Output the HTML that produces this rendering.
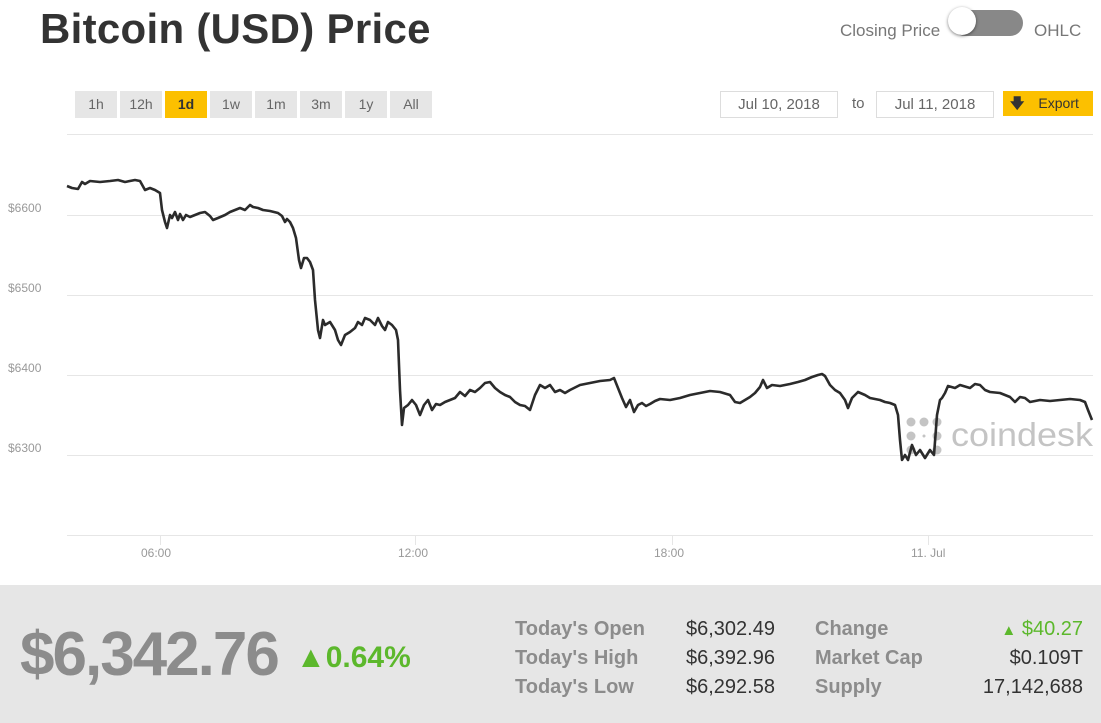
<!DOCTYPE html>
<html><head><meta charset="utf-8"><style>
body{margin:0;width:1101px;height:723px;background:#fff;font-family:"Liberation Sans",sans-serif;position:relative;overflow:hidden}
.a{position:absolute}
.btn{position:absolute;top:91px;height:27px;background:#e6e6e6;color:#666;font-size:14px;line-height:27px;text-align:center}
.lab{color:#8c8c8c;font-weight:bold;font-size:20px}
.val{color:#333;font-size:20px}
</style></head><body>
<div class="a" style="left:40px;top:5px;font-size:42px;font-weight:bold;color:#333;letter-spacing:0.3px">Bitcoin (USD) Price</div>
<div class="a" style="left:840px;top:21px;font-size:17px;color:#777">Closing Price</div>
<div class="a" style="left:952px;top:10px;width:71px;height:26px;border-radius:14px;background:#888"></div>
<div class="a" style="left:948px;top:7px;width:28px;height:28px;border-radius:50%;background:#fff;box-shadow:0 1px 3px rgba(0,0,0,.5)"></div>
<div class="a" style="left:1034px;top:21px;font-size:17px;color:#777">OHLC</div>
<div class="btn" style="left:75px;width:42px">1h</div>
<div class="btn" style="left:120px;width:42px">12h</div>
<div class="btn" style="left:165px;width:42px;background:#fcc000;color:#333;font-weight:bold">1d</div>
<div class="btn" style="left:210px;width:42px">1w</div>
<div class="btn" style="left:255px;width:42px">1m</div>
<div class="btn" style="left:300px;width:42px">3m</div>
<div class="btn" style="left:345px;width:42px">1y</div>
<div class="btn" style="left:390px;width:42px">All</div>
<div class="a" style="left:720px;top:91px;width:116px;height:25px;border:1px solid #ddd;font-size:15px;color:#666;text-align:center;line-height:25px">Jul 10, 2018</div>
<div class="a" style="left:852px;top:95px;font-size:15px;color:#666">to</div>
<div class="a" style="left:876px;top:91px;width:116px;height:25px;border:1px solid #ddd;font-size:15px;color:#666;text-align:center;line-height:25px">Jul 11, 2018</div>
<div class="a" style="left:1003px;top:91px;width:90px;height:25px;background:#fcc000;font-size:14px;color:#333;line-height:25px"><span style="margin-left:7px;font-weight:bold">&#129095;</span><span style="margin-left:14px">Export</span></div>
<svg class="a" style="left:0;top:0" width="1101" height="585">
<g stroke="#e6e6e6" stroke-width="1">
<line x1="67" y1="134.5" x2="1093" y2="134.5"/><line x1="67" y1="215.5" x2="1093" y2="215.5"/><line x1="67" y1="295.5" x2="1093" y2="295.5"/><line x1="67" y1="375.5" x2="1093" y2="375.5"/><line x1="67" y1="455.5" x2="1093" y2="455.5"/><line x1="67" y1="535.5" x2="1093" y2="535.5"/>
<line x1="160.5" y1="535" x2="160.5" y2="545"/><line x1="415.5" y1="535" x2="415.5" y2="545"/><line x1="672.5" y1="535" x2="672.5" y2="545"/><line x1="928.5" y1="535" x2="928.5" y2="545"/>
</g>
<g font-size="12" fill="#999"><text x="8" y="212">$6600</text><text x="8" y="292">$6500</text><text x="8" y="372">$6400</text><text x="8" y="452">$6300</text>
<text x="141" y="557">06:00</text><text x="398" y="557">12:00</text><text x="654" y="557">18:00</text><text x="911" y="557">11. Jul</text></g>
<g fill="#c4c4c4"><circle cx="911" cy="422" r="4.5"/><circle cx="924" cy="422" r="4.5"/><circle cx="937" cy="422" r="4.5"/><circle cx="911" cy="436" r="4.5"/><circle cx="937" cy="436" r="4.5"/><circle cx="911" cy="450" r="4.5"/><circle cx="937" cy="450" r="4.5"/><circle cx="924" cy="436" r="1.5"/></g>
<text x="951" y="446" font-size="33" fill="#c4c4c4" textLength="142" lengthAdjust="spacingAndGlyphs">coindesk</text>
<polyline fill="none" stroke="#2b2b2b" stroke-width="2.6" stroke-linejoin="round" points="67,186 72,188 78,189 82,182 85,184 90,181 100,182 110,181 118,180 125,182 135,180 140,181 145,190 150,188 155,190 160,193 162,210 165,222 167,228 170,215 172,218 175,212 178,220 180,214 183,220 186,215 190,217 195,215 200,213 205,212 210,216 213,220 218,218 225,215 230,212 235,210 240,208 245,210 250,205 253,207 258,208 263,210 270,211 278,213 282,216 285,222 287,219 290,222 293,228 296,238 299,260 301,268 304,258 307,258 310,262 313,270 315,300 318,330 320,338 323,320 325,325 330,322 335,330 338,340 341,345 345,335 350,332 355,328 358,322 362,325 365,318 370,320 375,325 378,318 382,326 385,330 388,322 392,325 396,330 398,340 400,390 402,425 404,408 408,405 412,400 416,405 420,415 424,405 428,400 432,410 436,404 440,405 445,402 450,400 455,398 460,392 465,396 470,390 475,392 480,388 485,383 490,382 495,388 500,392 505,395 510,397 515,402 520,405 525,406 530,410 535,395 540,385 545,388 550,385 555,392 560,390 565,393 570,390 580,385 590,383 600,381 610,380 614,378 618,388 622,398 626,407 630,400 634,412 638,405 642,403 646,406 650,404 655,401 660,399 670,400 680,398 690,395 700,393 710,391 720,392 730,395 735,402 740,403 745,400 750,397 755,393 760,387 763,380 767,388 772,385 780,386 790,384 798,382 805,380 812,377 818,375 822,374 825,376 830,385 835,390 840,393 845,400 848,408 852,398 858,392 865,395 870,398 880,400 885,402 890,403 895,405 898,415 900,440 902,460 905,455 908,460 912,445 916,455 920,450 925,458 930,450 934,455 937,415 940,400 942,398 945,393 948,386 955,388 960,385 970,388 975,384 980,385 985,390 990,392 1000,393 1005,395 1010,397 1015,402 1020,397 1025,398 1030,402 1040,400 1050,401 1060,400 1070,399 1080,400 1085,402 1088,410 1092,420"/>
</svg>
<div class="a" style="left:0;top:585px;width:1101px;height:138px;background:#e6e6e6"></div>
<div class="a" style="left:20px;top:619px;font-size:62px;font-weight:bold;color:#8c8c8c;letter-spacing:-2px">$6,342.76</div>
<div class="a" style="left:296px;top:641px;font-size:30px;font-weight:bold;color:#5cb82c">&#9650;0.64%</div>
<div class="a lab" style="left:515px;top:618px">Today's Open</div>
<div class="a lab" style="left:515px;top:647px">Today's High</div>
<div class="a lab" style="left:515px;top:676px">Today's Low</div>
<div class="a val" style="left:686px;top:618px">$6,302.49</div>
<div class="a val" style="left:686px;top:647px">$6,392.96</div>
<div class="a val" style="left:686px;top:676px">$6,292.58</div>
<div class="a lab" style="left:815px;top:618px">Change</div>
<div class="a lab" style="left:815px;top:647px">Market Cap</div>
<div class="a lab" style="left:815px;top:676px">Supply</div>
<div class="a val" style="right:18px;top:618px;color:#5cb82c"><span style="font-size:15px">&#9650;</span> $40.27</div>
<div class="a val" style="right:18px;top:647px">$0.109T</div>
<div class="a val" style="right:18px;top:676px">17,142,688</div>
</body></html>
